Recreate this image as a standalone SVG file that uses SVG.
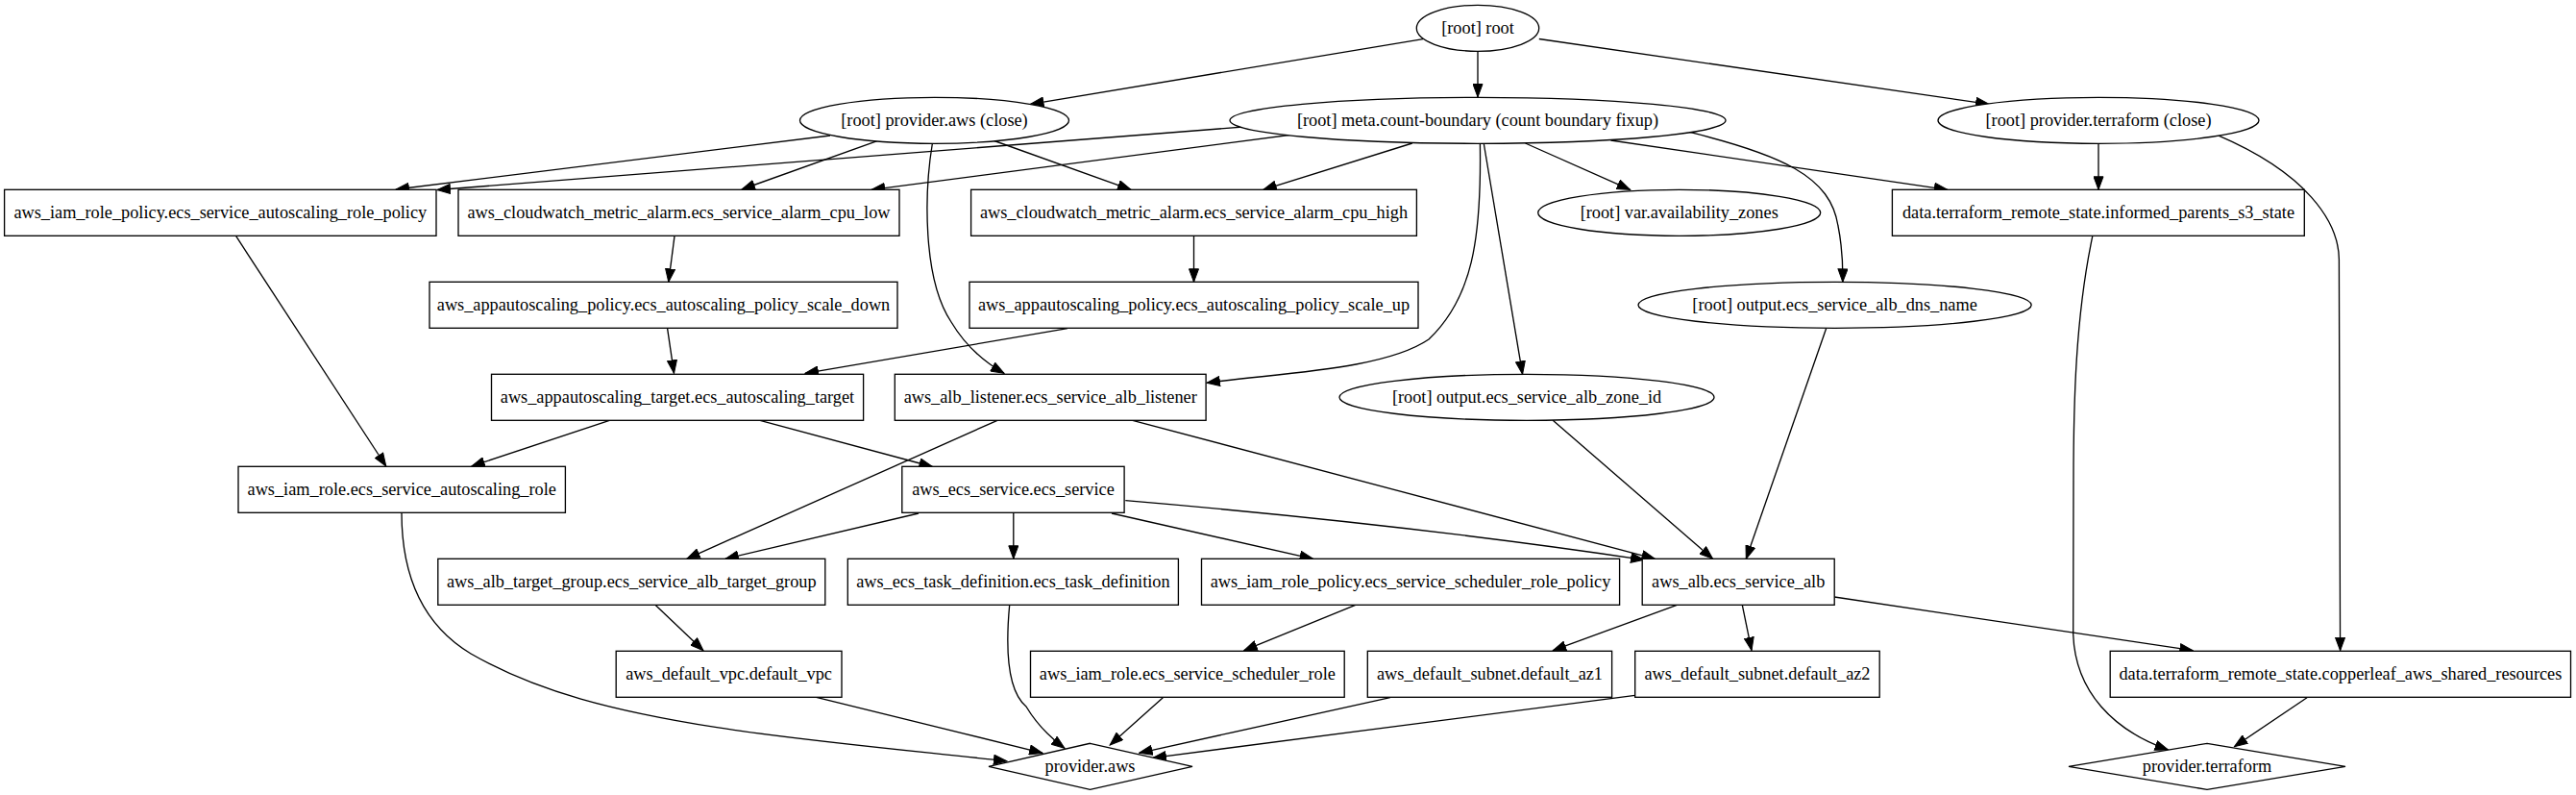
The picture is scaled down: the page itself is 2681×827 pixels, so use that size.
<svg xmlns="http://www.w3.org/2000/svg" width="2681" height="827" viewBox="0 0 2681 827">
<style>
.n rect, .n ellipse, .n polygon { fill: #ffffff; stroke: #000000; stroke-width: 1.33; }
.n text { font-family: "Liberation Serif", "Times New Roman", serif; font-size: 18.3px; text-anchor: middle; fill: #000000; }
#edges path { fill: none; stroke: #000000; stroke-width: 1.33; marker-end: url(#ah); }
</style>
<defs>
<marker id="ah" markerUnits="userSpaceOnUse" markerWidth="15" markerHeight="11" viewBox="0 0 15 11" refX="14" refY="5.5" orient="auto">
<path d="M0.5,0.5 L14,5.5 L0.5,10.5 z" fill="#000000" stroke="#000000" stroke-width="1"/>
</marker>
</defs>
<rect width="2681" height="827" fill="#ffffff"/>
<g id="edges">
<path d="M1481,40.7 L1072.5,108.3"/>
<path d="M1538,53.3 L1538,101"/>
<path d="M1601.8,40.5 L2070,108.3"/>
<path d="M864,141 L412,197"/>
<path d="M913,146.7 L772,197"/>
<path d="M1033.5,146 L1177,197.3"/>
<path d="M970.4,149 C962,200 960,290 990,335 C1005,360 1025,377 1045,388.3"/>
<path d="M1320.5,130 L455,197.5"/>
<path d="M1383.7,135 L907.2,197.3"/>
<path d="M1469.8,149 L1314.8,197.3"/>
<path d="M1540.4,150 C1542,250 1532,310 1487,353 C1440,385 1330,388 1256,398.3"/>
<path d="M1544.4,150 L1584.6,389.3"/>
<path d="M1587.5,149 L1696.6,197.3"/>
<path d="M1676.5,146 L2026.8,197.3"/>
<path d="M1733.9,131.7 C1860,160 1905,185 1913,235 C1918,260 1918,280 1917.8,293.3"/>
<path d="M2184,149.3 L2184,197.3"/>
<path d="M2308,140.7 C2400,180 2434,230 2434.4,270 L2435.6,676.7"/>
<path d="M2177.8,245.7 C2160,330 2158,420 2158,500 L2157.7,660 C2160,720 2200,760 2256.5,780"/>
<path d="M2401,725.7 L2325.4,776.7"/>
<path d="M702,245.7 L695.8,293.3"/>
<path d="M1242.5,245.3 L1242.5,293.3"/>
<path d="M694.6,341.7 L701.5,388.3"/>
<path d="M1111,341.7 L838,388.3"/>
<path d="M245.7,245.7 L401.8,485"/>
<path d="M634.3,437.3 L490.8,485"/>
<path d="M791,437.3 L970.4,485.5"/>
<path d="M1038,437.3 L714.7,581.3"/>
<path d="M1178.8,437.3 L1722.4,581.3"/>
<path d="M1616.2,437.3 L1782.6,581.3"/>
<path d="M1900.6,341.7 L1817.3,581.3"/>
<path d="M956,534 L754.9,581.3"/>
<path d="M1054.8,533.3 L1054.8,581.3"/>
<path d="M1157,534 L1366.5,581.3"/>
<path d="M1171.3,520.7 Q1460,545 1711,582.3"/>
<path d="M682,629.3 L732,676.7"/>
<path d="M1410.7,629.3 L1294.7,676.7"/>
<path d="M1745.3,629.3 L1616.2,676.7"/>
<path d="M1813.3,629.3 L1823,676.7"/>
<path d="M1909.2,621 L2282.3,676.7"/>
<path d="M418,533.3 C418,600 440,650 490,680 C560,720 640,740 746,756.7 C830,770 940,780 1047.9,791.7"/>
<path d="M849.6,725.3 L1085,783.3"/>
<path d="M1050.7,629.3 C1046,680 1050,720 1068,735 C1080,755 1094,768 1108,778.3"/>
<path d="M1210.3,725.7 L1155.2,775"/>
<path d="M1446.8,725.7 L1185.6,783.3"/>
<path d="M1701.7,723.3 L1200,788.3"/>
</g>
<g id="n_root" class="n"><ellipse cx="1538" cy="29.3" rx="63.7" ry="24"/><text x="1538" y="34.8">[root] root</text></g>
<g id="n_provider_aws_close" class="n"><ellipse cx="972.5" cy="125.3" rx="140" ry="24"/><text x="972.5" y="130.8">[root] provider.aws (close)</text></g>
<g id="n_meta_count_boundary" class="n"><ellipse cx="1538" cy="125.3" rx="258" ry="24"/><text x="1538" y="130.8">[root] meta.count-boundary (count boundary fixup)</text></g>
<g id="n_provider_terraform_close" class="n"><ellipse cx="2184" cy="125.3" rx="167" ry="24"/><text x="2184" y="130.8">[root] provider.terraform (close)</text></g>
<g id="n_iam_role_policy_autoscaling" class="n"><rect x="4.6" y="197.3" width="449.4" height="48"/><text x="229.3" y="226.8">aws_iam_role_policy.ecs_service_autoscaling_role_policy</text></g>
<g id="n_alarm_cpu_low" class="n"><rect x="477" y="197.3" width="459" height="48"/><text x="706.5" y="226.8">aws_cloudwatch_metric_alarm.ecs_service_alarm_cpu_low</text></g>
<g id="n_alarm_cpu_high" class="n"><rect x="1010.6" y="197.3" width="463.8" height="48"/><text x="1242.5" y="226.8">aws_cloudwatch_metric_alarm.ecs_service_alarm_cpu_high</text></g>
<g id="n_var_availability_zones" class="n"><ellipse cx="1747.7" cy="221.3" rx="147" ry="24"/><text x="1747.7" y="226.8">[root] var.availability_zones</text></g>
<g id="n_informed_parents_s3_state" class="n"><rect x="1969.4" y="197.3" width="428.9" height="48"/><text x="2184" y="226.8">data.terraform_remote_state.informed_parents_s3_state</text></g>
<g id="n_policy_scale_down" class="n"><rect x="447" y="293.3" width="487" height="48"/><text x="690.5" y="322.8">aws_appautoscaling_policy.ecs_autoscaling_policy_scale_down</text></g>
<g id="n_policy_scale_up" class="n"><rect x="1009" y="293.3" width="467" height="48"/><text x="1242.5" y="322.8">aws_appautoscaling_policy.ecs_autoscaling_policy_scale_up</text></g>
<g id="n_output_dns_name" class="n"><ellipse cx="1909.6" cy="317.3" rx="204.6" ry="24"/><text x="1909.6" y="322.8">[root] output.ecs_service_alb_dns_name</text></g>
<g id="n_autoscaling_target" class="n"><rect x="511.5" y="389.3" width="387.1" height="48"/><text x="705" y="418.8">aws_appautoscaling_target.ecs_autoscaling_target</text></g>
<g id="n_alb_listener" class="n"><rect x="931.3" y="389.3" width="323.8" height="48"/><text x="1093.2" y="418.8">aws_alb_listener.ecs_service_alb_listener</text></g>
<g id="n_output_zone_id" class="n"><ellipse cx="1589" cy="413.3" rx="195" ry="24"/><text x="1589" y="418.8">[root] output.ecs_service_alb_zone_id</text></g>
<g id="n_iam_role_autoscaling" class="n"><rect x="248" y="485.3" width="340.4" height="48"/><text x="418.2" y="514.8">aws_iam_role.ecs_service_autoscaling_role</text></g>
<g id="n_ecs_service" class="n"><rect x="938.8" y="485.3" width="231.3" height="48"/><text x="1054.5" y="514.8">aws_ecs_service.ecs_service</text></g>
<g id="n_alb_target_group" class="n"><rect x="455.8" y="581.3" width="403" height="48"/><text x="657.3" y="610.8">aws_alb_target_group.ecs_service_alb_target_group</text></g>
<g id="n_task_definition" class="n"><rect x="882.3" y="581.3" width="344.1" height="48"/><text x="1054.4" y="610.8">aws_ecs_task_definition.ecs_task_definition</text></g>
<g id="n_scheduler_role_policy" class="n"><rect x="1250.5" y="581.3" width="435.1" height="48"/><text x="1468" y="610.8">aws_iam_role_policy.ecs_service_scheduler_role_policy</text></g>
<g id="n_alb" class="n"><rect x="1709.2" y="581.3" width="200" height="48"/><text x="1809.2" y="610.8">aws_alb.ecs_service_alb</text></g>
<g id="n_default_vpc" class="n"><rect x="641.2" y="677.3" width="234.8" height="48"/><text x="758.6" y="706.8">aws_default_vpc.default_vpc</text></g>
<g id="n_scheduler_role" class="n"><rect x="1072.5" y="677.3" width="326.7" height="48"/><text x="1235.9" y="706.8">aws_iam_role.ecs_service_scheduler_role</text></g>
<g id="n_default_az1" class="n"><rect x="1423.3" y="677.3" width="254.3" height="48"/><text x="1550.5" y="706.8">aws_default_subnet.default_az1</text></g>
<g id="n_default_az2" class="n"><rect x="1701.7" y="677.3" width="254.5" height="48"/><text x="1829" y="706.8">aws_default_subnet.default_az2</text></g>
<g id="n_copperleaf" class="n"><rect x="2196.2" y="677.3" width="479.3" height="48"/><text x="2435.9" y="706.8">data.terraform_remote_state.copperleaf_aws_shared_resources</text></g>
<g id="n_provider_aws" class="n"><polygon points="1134.5,773.3 1241,797.3 1134.5,821.3 1029,797.3"/><text x="1134.5" y="802.8">provider.aws</text></g>
<g id="n_provider_terraform" class="n"><polygon points="2297,773.3 2441,797.3 2297,821.3 2153,797.3"/><text x="2297" y="802.8">provider.terraform</text></g>
</svg>
